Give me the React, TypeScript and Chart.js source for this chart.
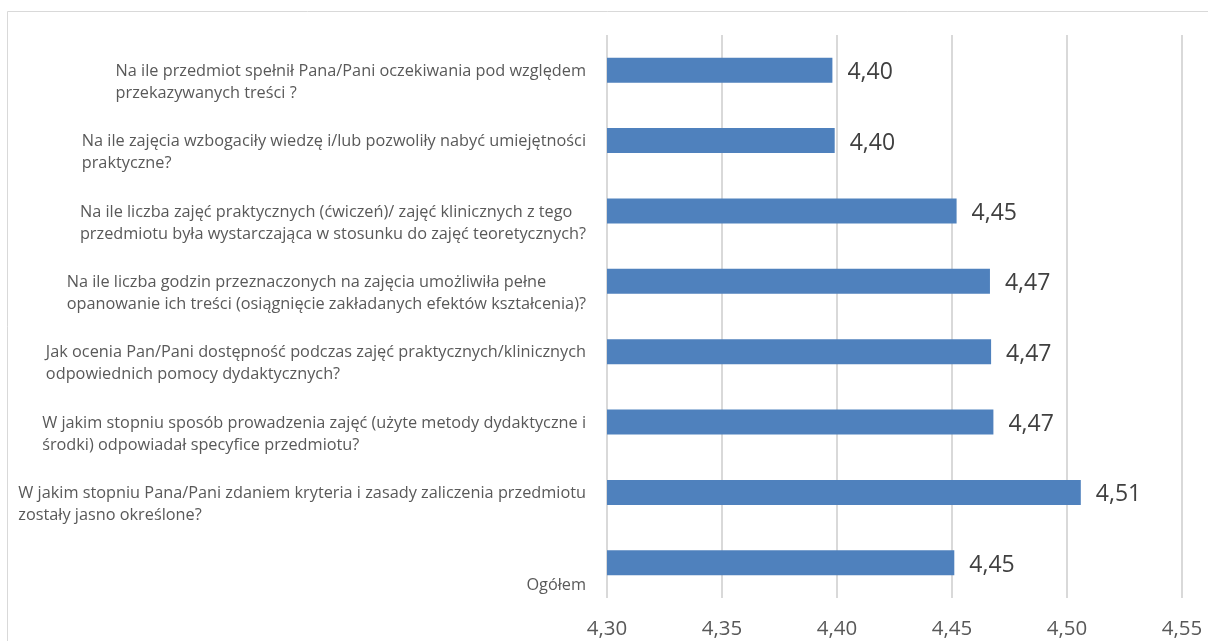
import React, { useEffect, useRef } from "react";
import { Chart, registerables } from "chart.js";

Chart.register(...registerables);

const categories: string[][] = [
  ["Na ile przedmiot spełnił Pana/Pani oczekiwania pod względem", "przekazywanych treści ?"],
  ["Na ile zajęcia wzbogaciły wiedzę i/lub pozwoliły nabyć umiejętności", "praktyczne?"],
  ["Na ile liczba zajęć praktycznych (ćwiczeń)/ zajęć klinicznych z tego", "przedmiotu była wystarczająca w stosunku do zajęć teoretycznych?"],
  ["Na ile liczba godzin przeznaczonych na zajęcia umożliwiła pełne", "opanowanie ich treści (osiągnięcie zakładanych efektów kształcenia)?"],
  ["Jak ocenia Pan/Pani dostępność podczas zajęć praktycznych/klinicznych", "odpowiednich pomocy dydaktycznych?"],
  ["W jakim stopniu sposób prowadzenia zajęć (użyte metody dydaktyczne i", "środki) odpowiadał specyfice przedmiotu?"],
  ["W jakim stopniu Pana/Pani zdaniem kryteria i zasady zaliczenia przedmiotu", "zostały jasno określone?"],
  ["", "Ogółem"],
];

const values: number[] = [4.398, 4.399, 4.452, 4.4665, 4.467, 4.468, 4.506, 4.451];
const valueLabels: string[] = ["4,40", "4,40", "4,45", "4,47", "4,47", "4,47", "4,51", "4,45"];

const xMin = 4.3;
const xMax = 4.55;
const xStep = 0.05;

const FONT = "'Open Sans', sans-serif";
const TEXT = "#595959";

export default function App() {
  const ref = useRef<HTMLCanvasElement | null>(null);

  useEffect(() => {
    if (!ref.current) return;

    const framePlugin = {
      id: "frame",
      beforeDraw(chart: any) {
        const ctx = chart.ctx;
        ctx.save();
        ctx.fillStyle = "#ffffff";
        ctx.fillRect(0, 0, chart.width, chart.height);
        ctx.strokeStyle = "#d9d9d9";
        ctx.lineWidth = 1;
        ctx.beginPath();
        ctx.moveTo(7.5, chart.height);
        ctx.lineTo(7.5, 11.5);
        ctx.lineTo(chart.width, 11.5);
        ctx.stroke();
        ctx.restore();
      },
    };

    const labelPlugin = {
      id: "catLabels",
      afterDraw(chart: any) {
        const ctx = chart.ctx;
        const yScale = chart.scales.y;
        ctx.save();
        ctx.font = `16.3px ${FONT}`;
        ctx.fillStyle = TEXT;
        ctx.textBaseline = "middle";
        ctx.textAlign = "left";
        const rightEdge = chart.chartArea.left - 21;
        categories.forEach((lines, i) => {
          const yc = yScale.getPixelForValue(i);
          const w = Math.max(...lines.map((l) => ctx.measureText(l).width));
          const x0 = rightEdge - w;
          lines.forEach((l, j) => {
            ctx.fillText(l, x0, yc + 1 + j * 22);
          });
        });
        const meta = chart.getDatasetMeta(0);
        ctx.font = `23px ${FONT}`;
        ctx.fillStyle = "#404040";
        meta.data.forEach((bar: any, i: number) => {
          ctx.fillText(valueLabels[i], bar.x + 15, bar.y + 2.5);
        });
        ctx.restore();
      },
    };

    const chart = new Chart(ref.current, {
      type: "bar",
      data: {
        labels: categories.map((c) => c.join(" ")),
        datasets: [
          {
            data: values,
            backgroundColor: "#4f81bd",
            borderWidth: 0,
            barPercentage: 0.355,
            categoryPercentage: 1,
          },
        ],
      },
      options: {
        indexAxis: "y",
        animation: false,
        responsive: false,
        maintainAspectRatio: false,
        layout: { padding: { left: 607, right: 26, top: 35, bottom: -18.4 } },
        plugins: {
          legend: { display: false },
          tooltip: { enabled: false },
        },
        scales: {
          x: {
            min: xMin,
            max: xMax,
            border: { display: false },
            grid: { color: "#d9d9d9", lineWidth: 2, drawTicks: false },
            ticks: {
              stepSize: xStep,
              color: TEXT,
              font: { family: FONT, size: 20.5, lineHeight: 2.8 },
              padding: 2,
              callback: (v: any) => Number(v).toFixed(2).replace(".", ","),
            },
          },
          y: {
            display: false,
          },
        },
      },
      plugins: [framePlugin, labelPlugin],
    });

    return () => chart.destroy();
  }, []);

  return (
    <div style={{ position: "fixed", left: 0, top: 0, width: 1208, height: 641 }}>
      <canvas ref={ref} width={1208} height={641} style={{ width: 1208, height: 641, display: "block" }} />
    </div>
  );
}
